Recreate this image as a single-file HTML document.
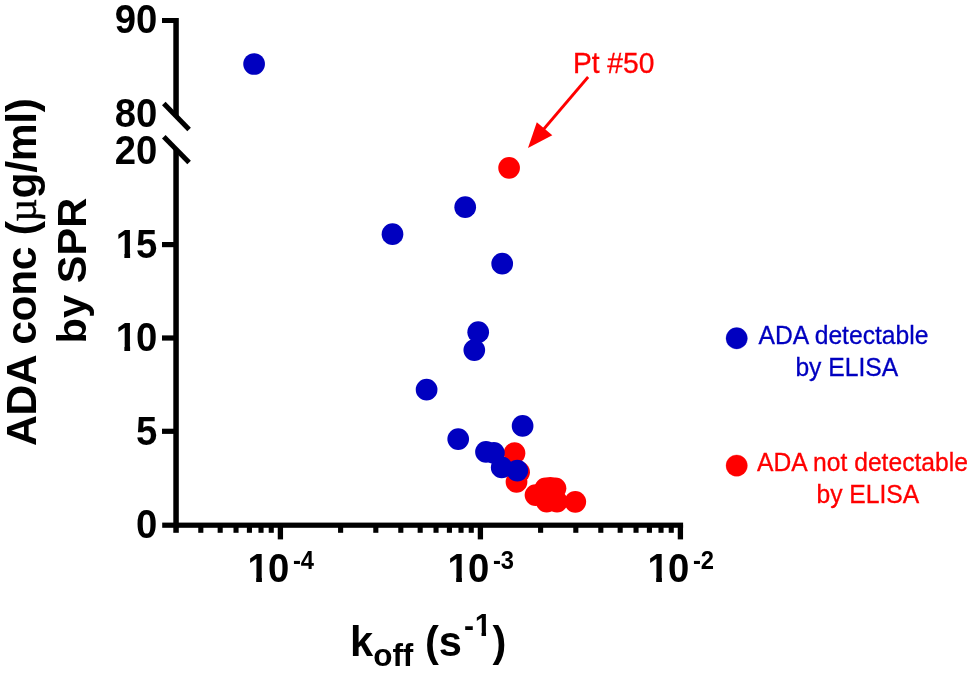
<!DOCTYPE html>
<html>
<head>
<meta charset="utf-8">
<title>ADA conc vs koff</title>
<style>
html,body{margin:0;padding:0;background:#fff;}
body{width:969px;height:678px;overflow:hidden;font-family:"Liberation Sans",sans-serif;}
svg{display:block;will-change:transform;}
text{font-family:"Liberation Sans",sans-serif;}
.tk{font-weight:bold;font-size:39.5px;fill:#000;}
.ttl{font-weight:bold;font-size:41.6px;fill:#000;}
.lg{font-size:24.65px;}
</style>
</head>
<body>
<svg width="969" height="678" viewBox="0 0 969 678">
<defs>
  <clipPath id="one">
    <rect x="0" y="-40" width="24" height="34.57"/>
    <rect x="8.97" y="-6" width="5.92" height="7"/>
  </clipPath>
</defs>
<rect width="969" height="678" fill="#fff"/>

<!-- axes -->
<g fill="#000" stroke="none">
  <rect x="173.3" y="18" width="5.5" height="98"/>
  <rect x="173.3" y="149" width="5.5" height="383.8"/>
  <rect x="162.2" y="522.6" width="520.9" height="5.2"/>
  <rect x="162" y="18" width="14" height="5"/>
  <rect x="162" y="242" width="14" height="5.2"/>
  <rect x="162" y="335.4" width="14" height="5.2"/>
  <rect x="162" y="428.7" width="14" height="5.2"/>
</g>
<g stroke="#000" stroke-width="5" stroke-linecap="butt">
  <line x1="163.8" y1="103.6" x2="189.1" y2="129.4"/>
  <line x1="163.8" y1="136.7" x2="189.1" y2="162.5"/>
</g>

<g fill="#000">
  <rect x="277.75" y="525" width="5.3" height="14.4"/>
  <rect x="477.75" y="525" width="5.3" height="14.4"/>
  <rect x="677.75" y="525" width="5.3" height="14.4"/>
  <rect x="198.26" y="525" width="5.1" height="7.8"/>
  <rect x="217.64" y="525" width="5.1" height="7.8"/>
  <rect x="233.48" y="525" width="5.1" height="7.8"/>
  <rect x="246.87" y="525" width="5.1" height="7.8"/>
  <rect x="258.47" y="525" width="5.1" height="7.8"/>
  <rect x="268.70" y="525" width="5.1" height="7.8"/>
  <rect x="338.06" y="525" width="5.1" height="7.8"/>
  <rect x="373.27" y="525" width="5.1" height="7.8"/>
  <rect x="398.26" y="525" width="5.1" height="7.8"/>
  <rect x="417.64" y="525" width="5.1" height="7.8"/>
  <rect x="433.48" y="525" width="5.1" height="7.8"/>
  <rect x="446.87" y="525" width="5.1" height="7.8"/>
  <rect x="458.47" y="525" width="5.1" height="7.8"/>
  <rect x="468.70" y="525" width="5.1" height="7.8"/>
  <rect x="538.06" y="525" width="5.1" height="7.8"/>
  <rect x="573.27" y="525" width="5.1" height="7.8"/>
  <rect x="598.26" y="525" width="5.1" height="7.8"/>
  <rect x="617.64" y="525" width="5.1" height="7.8"/>
  <rect x="633.48" y="525" width="5.1" height="7.8"/>
  <rect x="646.87" y="525" width="5.1" height="7.8"/>
  <rect x="658.47" y="525" width="5.1" height="7.8"/>
  <rect x="668.70" y="525" width="5.1" height="7.8"/>
</g>
<!-- y tick labels -->
<g transform="translate(157.40,33.40) scale(0.9700,1.0300)"><text class="tk" x="0" y="0" text-anchor="end">90</text></g>
<g transform="translate(157.40,126.90) scale(0.9700,1.0300)"><text class="tk" x="0" y="0" text-anchor="end">80</text></g>
<g transform="translate(157.40,164.10) scale(0.9700,1.0300)"><text class="tk" x="0" y="0" text-anchor="end">20</text></g>
<g transform="translate(157.40,258.40) scale(0.9700,1.0300)"><text class="tk" x="0" y="0" text-anchor="end">5</text></g>
<g transform="translate(115.66,258.40) scale(0.9700,1.0300)"><text class="tk" x="0" y="0" clip-path="url(#one)">1</text></g>
<g transform="translate(157.40,351.30) scale(0.9700,1.0300)"><text class="tk" x="0" y="0" text-anchor="end">0</text></g>
<g transform="translate(115.66,351.30) scale(0.9700,1.0300)"><text class="tk" x="0" y="0" clip-path="url(#one)">1</text></g>
<g transform="translate(157.40,444.60) scale(0.9700,1.0300)"><text class="tk" x="0" y="0" text-anchor="end">5</text></g>
<g transform="translate(157.40,538.10) scale(0.9700,1.0300)"><text class="tk" x="0" y="0" text-anchor="end">0</text></g>
<!-- x tick labels -->
<g transform="translate(247.48,582.30) scale(0.9700,1.0300)"><text class="tk" x="0" y="0" clip-path="url(#one)">1</text></g>
<g transform="translate(268.11,582.30) scale(0.9700,1.0300)"><text class="tk" x="0" y="0" text-anchor="start">0</text></g>
<g transform="translate(292.92,569.00) scale(0.6016,0.6389)"><text class="tk" x="0" y="0" text-anchor="start">-4</text></g>
<g transform="translate(447.48,582.30) scale(0.9700,1.0300)"><text class="tk" x="0" y="0" clip-path="url(#one)">1</text></g>
<g transform="translate(468.11,582.30) scale(0.9700,1.0300)"><text class="tk" x="0" y="0" text-anchor="start">0</text></g>
<g transform="translate(492.92,569.00) scale(0.6016,0.6389)"><text class="tk" x="0" y="0" text-anchor="start">-3</text></g>
<g transform="translate(647.48,582.30) scale(0.9700,1.0300)"><text class="tk" x="0" y="0" clip-path="url(#one)">1</text></g>
<g transform="translate(668.11,582.30) scale(0.9700,1.0300)"><text class="tk" x="0" y="0" text-anchor="start">0</text></g>
<g transform="translate(692.92,569.00) scale(0.6016,0.6389)"><text class="tk" x="0" y="0" text-anchor="start">-2</text></g>
<!-- x title -->
<text class="ttl" x="350" y="655.8">k<tspan font-size="31.5" dy="9.8">off</tspan><tspan dy="-9.8"> (s</tspan></text>

<g transform="translate(464.00,636.00) scale(0.7613,0.8084)"><text class="tk" x="0" y="0" text-anchor="start">-</text></g>
<g transform="translate(474.70,636.00) scale(0.7613,0.8084)"><text class="tk" x="0" y="0" clip-path="url(#one)">1</text></g>
<text class="ttl" x="492.6" y="655.8">)</text>
<!-- y title -->
<g transform="translate(35.9,446) rotate(-90)">
  <text class="ttl" x="0" y="0" style="font-size:42.6px;letter-spacing:-0.35px">ADA conc (</text>
  <text x="224.3" y="0" style="font-family:'Liberation Serif',serif;font-size:40px;fill:#000;stroke:#000;stroke-width:0.5px">&#xb5;</text>
  <text class="ttl" x="247.6" y="0" style="font-size:42.6px;letter-spacing:-0.35px">g/ml)</text>
</g>
<g transform="translate(86.3,343.4) rotate(-90) scale(1,0.965)">
  <text class="ttl" x="0" y="0">by SPR</text>
</g>

<!-- data -->
<g fill="#ff0000">
  <circle cx="509.1" cy="167.8" r="10.85"/>
  <circle cx="514.5" cy="453.2" r="10.85"/>
  <circle cx="519.1" cy="472.2" r="10.85"/>
  <circle cx="516.5" cy="481.9" r="10.85"/>
  <circle cx="535.5" cy="495.1" r="10.85"/>
  <circle cx="545.4" cy="488.4" r="10.85"/>
  <circle cx="550.3" cy="487.8" r="10.85"/>
  <circle cx="555.5" cy="488.3" r="10.85"/>
  <circle cx="546.7" cy="501.6" r="10.85"/>
  <circle cx="557" cy="501.6" r="10.85"/>
  <circle cx="575.3" cy="501.85" r="10.85"/>
</g>
<g fill="#0000c0">
  <circle cx="254.1" cy="64.0" r="10.85"/>
  <circle cx="465.2" cy="207.2" r="10.85"/>
  <circle cx="392.5" cy="234.2" r="10.85"/>
  <circle cx="502.2" cy="263.7" r="10.85"/>
  <circle cx="478.2" cy="332.2" r="10.85"/>
  <circle cx="474.3" cy="350.1" r="10.85"/>
  <circle cx="426.6" cy="389.7" r="10.85"/>
  <circle cx="522.6" cy="425.9" r="10.85"/>
  <circle cx="458.2" cy="439.1" r="10.85"/>
  <circle cx="486" cy="451.9" r="10.85"/>
  <circle cx="493.9" cy="452.9" r="10.85"/>
  <circle cx="501.7" cy="467.4" r="10.85"/>
  <circle cx="517.3" cy="470.6" r="10.85"/>
</g>
<!-- annotation -->
<g fill="#ff0000">
  <text transform="translate(572.9,72.8) scale(1,1.03)" x="0" y="0" font-size="28.2" stroke="#ff0000" stroke-width="0.3">Pt #50</text>
  <line x1="588.1" y1="77.0" x2="543" y2="130" stroke="#ff0000" stroke-width="2.8"/>
  <polygon points="528.0,148.0 536.8,122.3 552.3,135.2"/>
</g>
<!-- legend -->
<g class="lg" fill="#0000c0" stroke="#0000c0" stroke-width="0.3">
  <circle cx="736.7" cy="338.3" r="10.7"/>
  <text transform="translate(758.6,343.9) scale(1,1.04)" x="0" y="0">ADA detectable</text>
  <text transform="translate(795.4,376.3) scale(1,1.04)" x="0" y="0">by ELISA</text>
</g>
<g class="lg" fill="#ff0000" stroke="#ff0000" stroke-width="0.3">
  <circle cx="736.7" cy="465.6" r="10.7"/>
  <text transform="translate(757,471.1) scale(1,1.04)" x="0" y="0">ADA not detectable</text>
  <text transform="translate(816.5,503) scale(1,1.04)" x="0" y="0">by ELISA</text>
</g>
</svg>
</body>
</html>
